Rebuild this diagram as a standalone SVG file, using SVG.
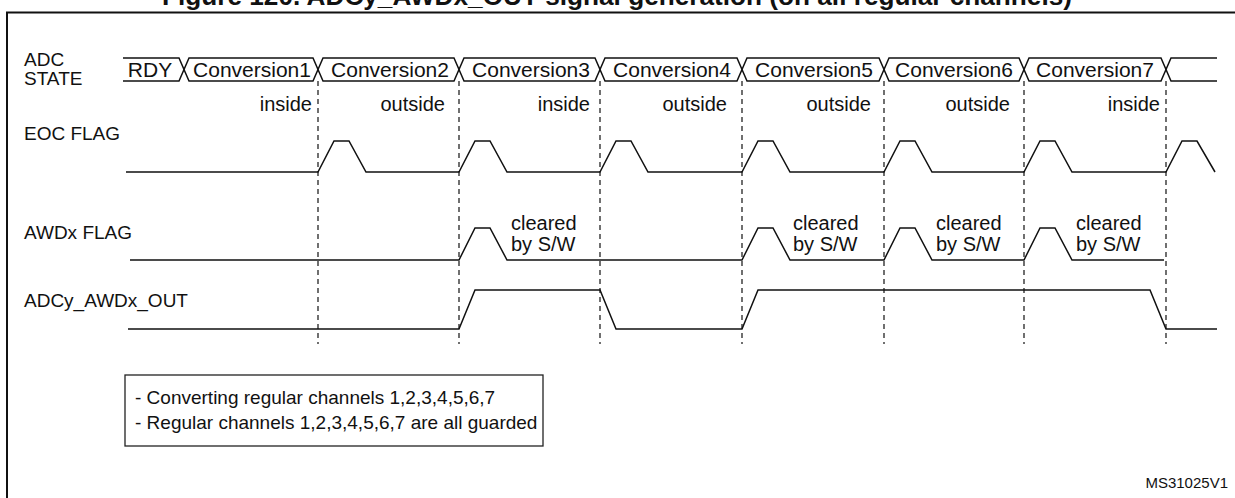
<svg xmlns="http://www.w3.org/2000/svg" width="1235" height="498" viewBox="0 0 1235 498">
<style>
.t{font-family:"Liberation Sans",Arial,sans-serif;font-size:20px;fill:#111}
.b{font-size:21px}
.s{font-size:19px}
.m{text-anchor:middle}
.e{text-anchor:end}
.w{fill:none;stroke:#111;stroke-width:1.5;stroke-linejoin:miter}
.d{fill:none;stroke:#111;stroke-width:1.2;stroke-dasharray:5 4}
</style>
<rect width="1235" height="498" fill="#fff"/>
<text x="162" y="4.5" font-family="Liberation Sans,Arial,sans-serif" font-weight="bold" font-size="26" textLength="910" lengthAdjust="spacingAndGlyphs" fill="#111">Figure 120. ADCy_AWDx_OUT signal generation (on all regular channels)</text>
<rect id="frame" x="7" y="12.5" width="1240" height="500" fill="none" stroke="#111" stroke-width="2"/>

<g id="connectors">
<path class="d" d="M318,81V344M459,81V344M600,81V344M742,81V344M884,81V344M1024,81V344M1166,81V344"/>
</g>

<g id="adc-state">
<text class="t s" x="24" y="66">ADC</text>
<text class="t s" x="24" y="85">STATE</text>
<path class="w" d="M123,58H179L184,69.5L179,81H123"/>
<path class="w" d="M184,69.5L189,58H313L318,69.5L313,81H189Z"/>
<path class="w" d="M318,69.5L323,58H454L459,69.5L454,81H323Z"/>
<path class="w" d="M459,69.5L464,58H595L600,69.5L595,81H464Z"/>
<path class="w" d="M600,69.5L605,58H737L742,69.5L737,81H605Z"/>
<path class="w" d="M742,69.5L747,58H879L884,69.5L879,81H747Z"/>
<path class="w" d="M884,69.5L889,58H1019L1024,69.5L1019,81H889Z"/>
<path class="w" d="M1024,69.5L1029,58H1161L1166,69.5L1161,81H1029Z"/>
<path class="w" d="M1217,58H1171L1166,69.5L1171,81H1217"/>
<text class="t b m" x="150" y="77">RDY</text>
<text class="t b m" x="252" y="77">Conversion1</text>
<text class="t b m" x="390" y="77">Conversion2</text>
<text class="t b m" x="531" y="77">Conversion3</text>
<text class="t b m" x="672" y="77">Conversion4</text>
<text class="t b m" x="814" y="77">Conversion5</text>
<text class="t b m" x="954" y="77">Conversion6</text>
<text class="t b m" x="1095" y="77">Conversion7</text>
</g>

<g id="range-labels">
<text class="t e" x="312" y="111">inside</text>
<text class="t e" x="445" y="111">outside</text>
<text class="t e" x="590" y="111">inside</text>
<text class="t e" x="727" y="111">outside</text>
<text class="t e" x="871" y="111">outside</text>
<text class="t e" x="1010" y="111">outside</text>
<text class="t e" x="1160" y="111">inside</text>
</g>

<g id="eoc-flag">
<text class="t s" x="24" y="140">EOC FLAG</text>
<path class="w" d="M126,172H318L334,141H349L366,172H459L475,141H490L507,172H600L616,141H631L648,172H742L758,141H773L790,172H884L900,141H915L932,172H1024L1040,141H1055L1072,172H1166L1182,141H1197L1215,172"/>
</g>

<g id="awdx-flag">
<text class="t s" x="24" y="239">AWDx FLAG</text>
<path class="w" d="M130,260H459L475,228H490L507,260H742L758,228H773L790,260H884L900,228H915L932,260H1024L1040,228H1055L1072,260H1164"/>
<text class="t" x="511" y="230">cleared</text>
<text class="t" x="511" y="251">by S/W</text>
<text class="t" x="793" y="230">cleared</text>
<text class="t" x="793" y="251">by S/W</text>
<text class="t" x="936" y="230">cleared</text>
<text class="t" x="936" y="251">by S/W</text>
<text class="t" x="1076" y="230">cleared</text>
<text class="t" x="1076" y="251">by S/W</text>
</g>

<g id="adcy-awdx-out">
<text class="t s" x="24" y="307">ADCy_AWDx_OUT</text>
<path class="w" d="M128,329H459L475,290H600L616,329H742L758,290H1150L1166,329H1217"/>
</g>

<g id="note">
<rect x="125" y="375" width="418" height="71" fill="none" stroke="#222" stroke-width="1.3"/>
<text class="t s" x="135" y="404">- Converting regular channels 1,2,3,4,5,6,7</text>
<text class="t s" x="135" y="429">- Regular channels 1,2,3,4,5,6,7 are all guarded</text>
</g>

<text class="t e" x="1228" y="488" style="font-size:15px">MS31025V1</text>
</svg>
